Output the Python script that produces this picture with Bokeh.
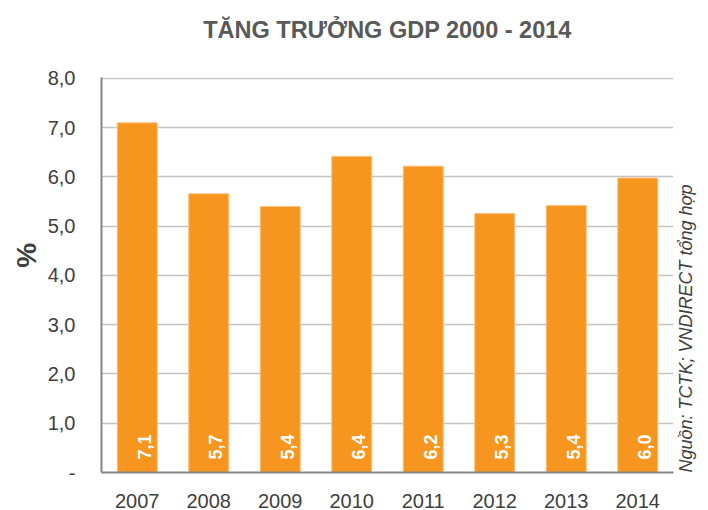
import math
from bokeh.plotting import figure
from bokeh.models import FactorRange, Range1d, FixedTicker, ColumnDataSource, LinearAxis
from bokeh.core.properties import value
from bokeh.embed import file_html
from bokeh.resources import INLINE

years = ["2007", "2008", "2009", "2010", "2011", "2012", "2013", "2014"]
gdp = [7.10, 5.66, 5.40, 6.42, 6.22, 5.26, 5.42, 5.98]
yticks = [0, 1, 2, 3, 4, 5, 6, 7, 8]
ytick_labels = ["-", "1,0", "2,0", "3,0", "4,0", "5,0", "6,0", "7,0", "8,0"]
title_text = "TĂNG TRƯỞNG GDP 2000 - 2014"
source_text = "Nguồn: TCTK; VNDIRECT tổng hợp"
ylabel_text = "%"

FONT = "Liberation Sans"
ORANGE = "#F7961E"

labels = [f"{v:.1f}".replace(".", ",") for v in gdp]
src = ColumnDataSource(dict(x=years, top=gdp, lab=labels))

p = figure(width=708, height=510, x_range=FactorRange(*years), y_range=Range1d(0, 8.02),
           output_backend="svg", toolbar_location=None,
           min_border_left=101, min_border_right=33, min_border_top=77, min_border_bottom=37)
p.outline_line_color = None
p.background_fill_color = "white"
p.border_fill_color = "white"


def bare_axis(**kw):
    return LinearAxis(axis_line_color=None,
                      major_tick_line_color=None, minor_tick_line_color=None,
                      major_tick_in=0, major_tick_out=0, **kw)


p.vbar(x="x", top="top", width=0.56, source=src, fill_color=ORANGE,
       line_color="#FBC386", line_width=1)

p.text(x="x", y=0, text="lab", source=src, angle=math.pi / 2,
       text_align="left", text_baseline="alphabetic", x_offset=7, y_offset=-13,
       text_color="white", text_font_size="18px", text_font_style="bold",
       text_font=value(FONT))

# main axes
p.yaxis.ticker = FixedTicker(ticks=yticks)
p.yaxis.major_label_overrides = {t: l for t, l in zip(yticks, ytick_labels)}
for ax in (p.xaxis[0], p.yaxis[0]):
    ax.axis_line_color = "#868686"
    ax.axis_line_width = 2
    ax.major_tick_line_color = None
    ax.minor_tick_line_color = None
    ax.major_tick_in = 0
    ax.major_tick_out = 0
    ax.major_label_text_font = FONT
    ax.major_label_text_font_size = "20px"
    ax.major_label_text_color = "#404040"
p.yaxis.major_label_standoff = 26
p.xaxis.major_label_standoff = 21

# "%" label, placed as the single tick label of a bare left axis
PCT_Y = 4.41
pct_axis = bare_axis(ticker=FixedTicker(ticks=[PCT_Y]), major_label_overrides={PCT_Y: ylabel_text},
                     major_label_orientation="vertical", major_label_standoff=2,
                     major_label_text_font=FONT, major_label_text_font_size="28px",
                     major_label_text_font_style="bold", major_label_text_color="#404040")
p.add_layout(pct_axis, "left")

# title
title_axis = bare_axis(ticker=FixedTicker(ticks=[]), major_label_text_font_size="0px",
                       axis_label=title_text,
                       axis_label_standoff=35, axis_label_text_font=FONT,
                       axis_label_text_font_size="23.5px", axis_label_text_font_style="bold",
                       axis_label_text_color="#595959")
p.add_layout(title_axis, "above")

# source note, as the single tick label of a bare right axis
SRC_Y = 0.0
right = bare_axis(ticker=FixedTicker(ticks=[SRC_Y]),
                  major_label_overrides={SRC_Y: source_text},
                  major_label_orientation=math.pi / 2, major_label_standoff=12,
                  major_label_text_font=FONT, major_label_text_font_size="18px",
                  major_label_text_font_style="italic", major_label_text_color="#404040")
p.add_layout(right, "right")

p.xgrid.grid_line_color = None
p.ygrid.grid_line_color = "#C4C4C4"
p.ygrid.grid_line_width = 1.5
p.ygrid.ticker = FixedTicker(ticks=yticks[1:])

open("out.html", "w").write(file_html(p, INLINE))
